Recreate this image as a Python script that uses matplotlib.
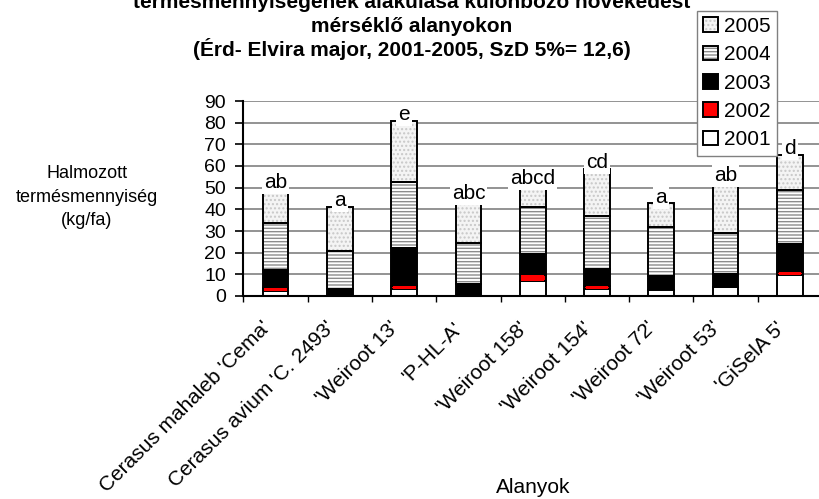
import numpy as np
import matplotlib as mpl
mpl.use("Agg")
import matplotlib.pyplot as plt
from matplotlib.transforms import ScaledTranslation

plt.rcParams["font.family"] = ["Liberation Sans", "DejaVu Sans"]
plt.rcParams["hatch.linewidth"] = 1.0

title_lines = ["termésmennyiségének alakulása különböző növekedést",
               "mérséklő alanyokon",
               "(Érd- Elvira major, 2001-2005, SzD 5%= 12,6)"]
categories = ["Cerasus mahaleb 'Cema'", "Cerasus avium 'C. 2493'", "'Weiroot 13'",
              "'P-HL-A'", "'Weiroot 158'", "'Weiroot 154'", "'Weiroot 72'",
              "'Weiroot 53'", "'GiSelA 5'"]
years = ["2001", "2002", "2003", "2004", "2005"]
y2001 = [2.5, 0.0, 3.2, 0.0, 6.9, 3.4, 2.8, 4.0, 9.5]
y2002 = [1.0, 0.0, 1.3, 0.0, 2.8, 1.0, 0.2, 0.3, 1.5]
y2003 = [8.5, 3.1, 17.6, 5.4, 9.7, 7.9, 6.2, 6.0, 13.0]
y2004 = [21.8, 17.7, 30.5, 19.2, 21.8, 24.8, 22.8, 18.6, 24.9]
y2005 = [15.7, 20.4, 28.2, 19.7, 10.0, 21.5, 10.8, 23.9, 16.2]
letters = ["ab", "a", "e", "abc", "abcd", "cd", "a", "ab", "d"]
yticks = [0, 10, 20, 30, 40, 50, 60, 70, 80, 90]

# fill, hatch, hatch colour per year
styles = {
    "2001": ("white", None, "black"),
    "2002": ("#ff0000", None, "black"),
    "2003": ("black", None, "black"),
    "2004": ("white", "-----", "#8c8c8c"),
    "2005": ("#f4f4f4", "....", "#c8c8c8"),
}

fig = plt.figure(figsize=(8.2, 4.99), dpi=100)
ax = fig.add_axes([243.5 / 820, (499 - 296) / 499, (822 - 243.5) / 820, 195 / 499])

x = np.arange(len(categories))
width = 0.4
bottom = np.zeros(len(categories))
handles = {}
for year, vals in zip(years, [y2001, y2002, y2003, y2004, y2005]):
    vals = np.array(vals)
    fc, hatch, hc = styles[year]
    b1 = ax.bar(x, vals, width, bottom=bottom, color=fc, edgecolor=hc, hatch=hatch,
                linewidth=0, zorder=2)
    b2 = ax.bar(x, vals, width, bottom=bottom, facecolor="none", edgecolor="black",
                linewidth=1.4, zorder=3)
    handles[year] = (b1[0], b2[0])
    if year == "2002":
        # thin red band stays visible on top of the segment borders, as in Excel
        ax.bar(x, vals, width * 0.88, bottom=bottom, color=fc, linewidth=0, zorder=3.5)
    bottom = bottom + vals

# significance letters with white boxes, like the Excel data labels
for xi, top, txt in zip(x, bottom, letters):
    ax.text(xi, top + 0.3, txt, ha="center", va="baseline", fontsize=15, zorder=4,
            bbox=dict(facecolor="white", edgecolor="none", pad=1.5))

ax.set_xlim(-0.5, len(categories) - 0.5)
ax.set_ylim(0, 90)
ax.set_yticks(yticks)
ax.tick_params(axis="y", labelsize=14, length=5.5, width=1.2, pad=7)
ax.set_xticks(np.arange(len(categories) + 1) - 0.5)
ax.set_xticklabels([])
ax.tick_params(axis="x", which="major", length=4, width=1.0)
ax.set_xticks(x, minor=True)
ax.set_xticklabels(categories, minor=True, rotation=45, ha="right", va="top",
                   rotation_mode="anchor", fontsize=15)
ax.tick_params(axis="x", which="minor", length=0, pad=16)
for lab in ax.get_xticklabels(minor=True):
    lab.set_transform(lab.get_transform() + ScaledTranslation(-0.15, 0, fig.dpi_scale_trans))

ax.yaxis.grid(True, color="#808080", linewidth=1.2)
ax.set_axisbelow(True)
ax.spines["top"].set_visible(False)
ax.spines["right"].set_visible(False)
ax.spines["left"].set_linewidth(1.5)
ax.spines["bottom"].set_linewidth(1.5)

# title (first line runs off the top edge in the original)
for line, yb in zip(title_lines, [8, 32.5, 56]):
    fig.text(412 / 820, 1 - yb / 499, line, ha="center", va="baseline",
             fontsize=15, fontweight="bold")

fig.text(87 / 820, 1 - 197 / 499, "Halmozott\ntermésmennyiség\n(kg/fa)",
         ha="center", va="center", fontsize=13, linespacing=1.5)
fig.text(533 / 820, 1 - 493 / 499, "Alanyok", ha="center", va="baseline", fontsize=15)

order = ["2005", "2004", "2003", "2002", "2001"]
leg = fig.legend([handles[y] for y in order], order, loc="upper left",
                 bbox_to_anchor=(696.7 / 820, 1 - 10.7 / 499), bbox_transform=fig.transFigure,
                 fontsize=15, handlelength=0.7, handleheight=0.7, handletextpad=0.3,
                 labelspacing=0.45, borderpad=0.3, borderaxespad=0, fancybox=False,
                 framealpha=1, edgecolor="#808080")
leg.get_frame().set_linewidth(1.0)

fig.savefig("out.png", dpi=100)
